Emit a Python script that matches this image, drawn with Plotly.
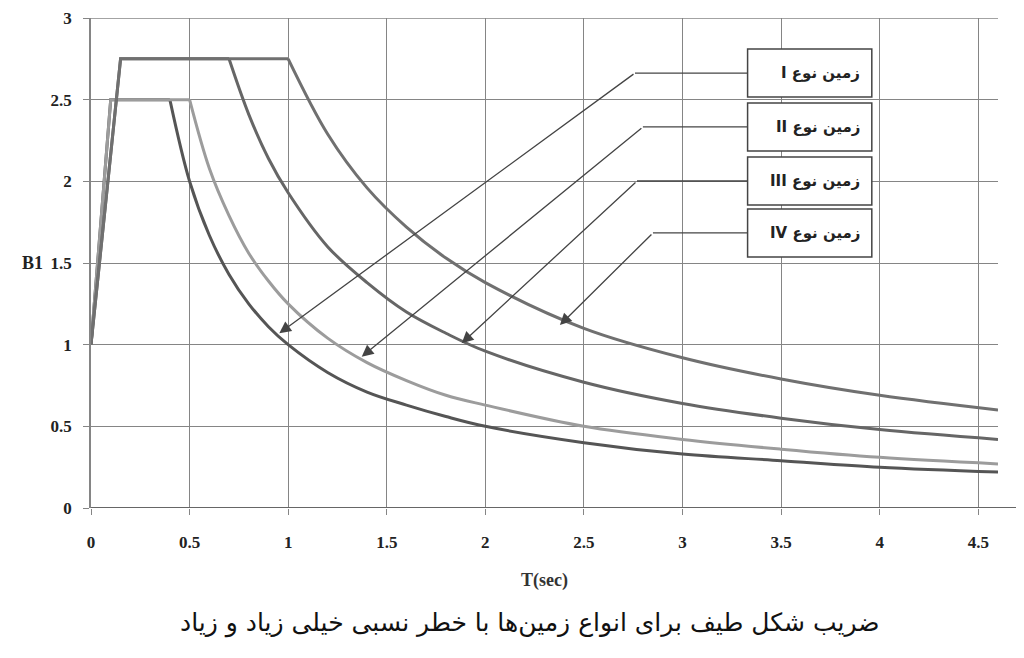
import plotly.graph_objects as go

# Spectral coefficient B1 (T in seconds)
T_I = [0, 0.1, 0.4, 0.5, 0.6, 0.7, 0.8, 0.9, 1.0, 1.2, 1.4, 1.6, 1.8, 2.0, 2.5, 3.0, 3.5, 4.0, 4.6]
B_I = [1.0, 2.5, 2.5, 2.0, 1.67, 1.43, 1.25, 1.11, 1.0, 0.83, 0.71, 0.63, 0.56, 0.50, 0.40, 0.33, 0.29, 0.25, 0.22]

T_II = [0, 0.1, 0.5, 0.6, 0.7, 0.8, 0.9, 1.0, 1.2, 1.4, 1.6, 1.8, 2.0, 2.5, 3.0, 3.5, 4.0, 4.6]
B_II = [1.0, 2.5, 2.5, 2.08, 1.79, 1.56, 1.39, 1.25, 1.04, 0.89, 0.78, 0.69, 0.63, 0.50, 0.42, 0.36, 0.31, 0.27]

T_III = [0, 0.15, 0.7, 0.8, 0.9, 1.0, 1.2, 1.4, 1.6, 1.8, 2.0, 2.5, 3.0, 3.5, 4.0, 4.6]
B_III = [1.0, 2.75, 2.75, 2.41, 2.14, 1.93, 1.60, 1.38, 1.20, 1.07, 0.96, 0.77, 0.64, 0.55, 0.48, 0.42]

T_IV = [0, 0.15, 1.0, 1.2, 1.4, 1.6, 1.8, 2.0, 2.5, 3.0, 3.5, 4.0, 4.6]
B_IV = [1.0, 2.75, 2.75, 2.29, 1.96, 1.72, 1.53, 1.38, 1.10, 0.92, 0.79, 0.69, 0.60]

series_names = ["زمین نوع I", "زمین نوع II", "زمین نوع III", "زمین نوع IV"]
series_T = [T_I, T_II, T_III, T_IV]
series_B = [B_I, B_II, B_III, B_IV]
colors = ["#555555", "#9c9c9c", "#666666", "#707070"]

x_ticks = [0, 0.5, 1, 1.5, 2, 2.5, 3, 3.5, 4, 4.5]
x_ticktext = ["0", "0.5", "1", "1.5", "2", "2.5", "3", "3.5", "4", "4.5"]
y_ticks = [0, 0.5, 1, 1.5, 2, 2.5, 3]
y_ticktext = ["0", "0.5", "1", "1.5", "2", "2.5", "3"]

# label arrow tips (points on curves) and leader elbows
tip_T = [0.955, 1.373, 1.880, 2.378]
tip_B = [1.070, 0.926, 1.008, 1.120]
elbow_T = [2.759, 2.799, 2.769, 2.850]
elbow_B = [2.663, 2.333, 2.002, 1.684]
box_x0, box_x1 = 3.33, 3.96
box_half_h = 0.147
text_right_T = 3.91

fig = go.Figure()
for name, T, B, c in zip(series_names, series_T, series_B, colors):
    fig.add_trace(go.Scatter(x=T[:3], y=B[:3], mode="lines", line=dict(color=c, width=3),
                             showlegend=False, hoverinfo="skip"))
    fig.add_trace(go.Scatter(x=T[2:], y=B[2:], mode="lines", name=name,
                             line=dict(color=c, width=3, shape="spline", smoothing=1.0),
                             showlegend=False))

for i, name in enumerate(series_names):
    fig.add_annotation(x=tip_T[i], y=tip_B[i], ax=elbow_T[i], ay=elbow_B[i],
                       xref="x", yref="y", axref="x", ayref="y", text="",
                       showarrow=True, arrowhead=2, arrowsize=1.8, arrowwidth=1.3,
                       arrowcolor="#444444")
    fig.add_shape(type="line", xref="x", yref="y", x0=elbow_T[i], y0=elbow_B[i],
                  x1=box_x0, y1=elbow_B[i], line=dict(color="#444444", width=1.3))
    fig.add_shape(type="rect", xref="x", yref="y", x0=box_x0, x1=box_x1,
                  y0=elbow_B[i] - box_half_h, y1=elbow_B[i] + box_half_h,
                  line=dict(color="#444444", width=1.5), fillcolor="white", layer="above")
    fig.add_annotation(x=text_right_T, y=elbow_B[i], xref="x", yref="y",
                       xanchor="right", yanchor="middle",
                       text="<b>\u202b" + name + "\u202c</b>", showarrow=False,
                       font=dict(family="DejaVu Sans", size=15, color="#222222"))

# top grid line and baseline extended to the page edge
fig.add_shape(type="line", xref="paper", yref="y", x0=-0.0066, x1=1, y0=3, y1=3,
              line=dict(color="#858585", width=1.3))
fig.add_shape(type="line", xref="paper", yref="y", x0=0, x1=1.05, y0=0, y1=0,
              line=dict(color="#666666", width=2), layer="above")

fig.add_annotation(x=-0.064, y=1.5, xref="paper", yref="y", xanchor="center", yanchor="middle",
                   text="<b>B1</b>", showarrow=False,
                   font=dict(family="Liberation Serif", size=18, color="#222222"))
fig.add_annotation(x=0.5, y=-0.147, xref="paper", yref="paper", xanchor="center", yanchor="middle",
                   text="<b>T(sec)</b>", showarrow=False,
                   font=dict(family="Liberation Serif", size=18, color="#333333"))
fig.add_annotation(x=0.484, y=-0.235, xref="paper", yref="paper", xanchor="center", yanchor="middle",
                   text="ضریب شکل طیف برای انواع زمین‌ها با خطر نسبی خیلی زیاد و زیاد",
                   showarrow=False, font=dict(family="DejaVu Sans", size=25, color="#111111"))

fig.update_layout(
    width=1024, height=658,
    margin=dict(l=83, r=34, t=10, b=158),
    paper_bgcolor="white", plot_bgcolor="white",
    xaxis=dict(range=[0, 4.6], tickvals=x_ticks, ticktext=x_ticktext, automargin=False,
               showgrid=True, gridcolor="#858585", gridwidth=1.3,
               ticks="outside", ticklen=6, tickcolor="#858585", tickwidth=1.3,
               zeroline=False, showline=False, ticklabelstandoff=13,
               tickfont=dict(family="Liberation Serif", size=17, color="#222222", weight="bold")),
    yaxis=dict(range=[0, 3], tickvals=y_ticks, ticktext=y_ticktext, automargin=False,
               showgrid=True, gridcolor="#858585", gridwidth=1.3,
               ticks="outside", ticklen=6, tickcolor="#858585", tickwidth=1.3,
               zeroline=False, showline=True, linecolor="#858585", linewidth=1.5,
               ticklabelstandoff=8, ticklabeloverflow="allow",
               tickfont=dict(family="Liberation Serif", size=17, color="#222222", weight="bold")),
)

fig.write_html("out.html")
